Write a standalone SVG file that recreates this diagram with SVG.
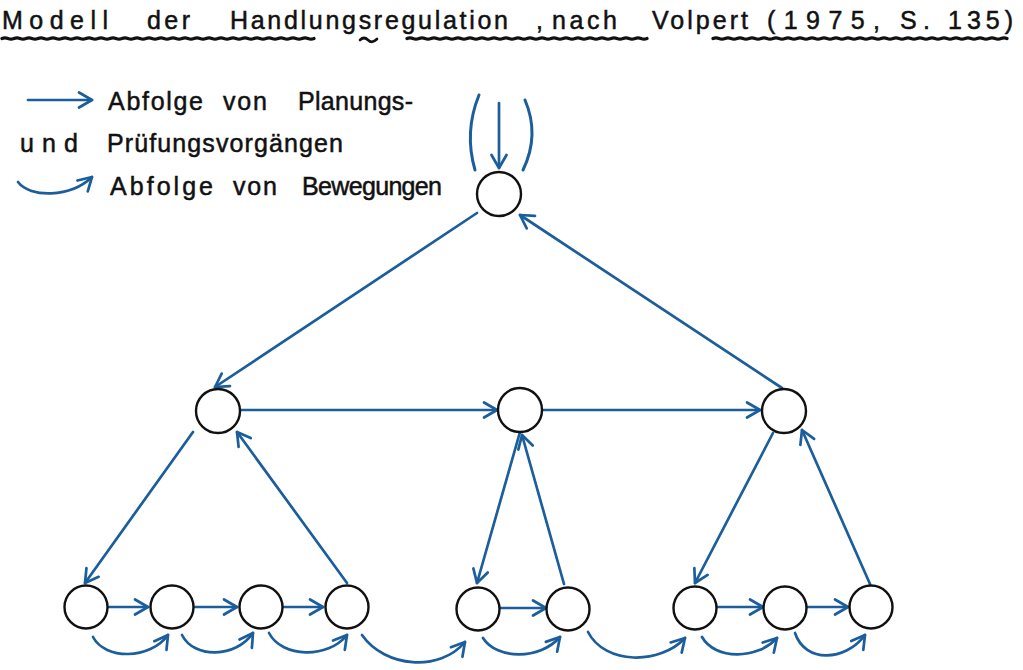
<svg xmlns="http://www.w3.org/2000/svg" width="1023" height="670" viewBox="0 0 1023 670">
<style>
  .t { font-family: "Liberation Sans", "DejaVu Sans", sans-serif; fill: #111; stroke: #111; stroke-width: 0.5; }
  .ttl { font-size: 25px; }
  .lg { font-size: 25px; }
  .ul { fill: none; stroke: #111; stroke-width: 3.2; stroke-linecap: round; }
  .node { fill: #fff; stroke: #111; stroke-width: 2.4; }
  .c { fill: none; stroke: #1b5e9b; stroke-width: 2.7; stroke-linecap: round; marker-end: url(#ah); }
  .p { fill: none; stroke: #1b5e9b; stroke-width: 3; stroke-linecap: round; }
</style>
<defs>
  <marker id="ah" viewBox="-15 -10 17 20" markerWidth="17" markerHeight="20" refX="0" refY="0" orient="auto" markerUnits="userSpaceOnUse">
    <path d="M-13,-7.5 L0,0 L-13,7.5" fill="none" stroke="#1b5e9b" stroke-width="2.7" stroke-linecap="round" stroke-linejoin="round"/>
  </marker>
</defs>
<rect width="1023" height="670" fill="#fff"/>

<g id="title">
  <text class="t ttl" x="2" y="29" textLength="106" lengthAdjust="spacing">Modell</text>
  <text class="t ttl" x="147" y="29" textLength="43" lengthAdjust="spacing">der</text>
  <text class="t ttl" x="230" y="29" textLength="278" lengthAdjust="spacing">Handlungsregulation</text>
  <text class="t ttl" x="536" y="29">,</text>
  <text class="t ttl" x="552" y="29" textLength="65" lengthAdjust="spacing">nach</text>
  <text class="t ttl" x="652" y="29" textLength="96" lengthAdjust="spacing">Volpert</text>
  <text class="t ttl" x="767" y="29" textLength="113" lengthAdjust="spacing">(1975,</text>
  <text class="t ttl" x="900" y="29" textLength="30" lengthAdjust="spacing">S.</text>
  <text class="t ttl" x="948" y="29" textLength="65" lengthAdjust="spacing">135)</text>
  <path class="ul" d="M2,38.5 q3,-1.3 6,0 t6,0 t6,0 t6,0 t6,0 t6,0 t6,0 t6,0 t6,0 t6,0 t6,0 t6,0 t6,0 t6,0 t6,0 t6,0 t6,0 t6,0 t6,0 t6,0 t6,0 t6,0 t6,0 t6,0 t6,0 t6,0 t6,0 t6,0 t6,0 t6,0 t6,0 t6,0 t6,0 t6,0 t6,0 t6,0 t6,0 t6,0 t6,0 t6,0 t6,0 t6,0 t6,0 t6,0 t6,0 t6,0 t6,0 t6,0 t6,0 t6,0 t6,0 t6,0"/>
  <path d="M360,40 q4,-4 8,0 t9,-1" fill="none" stroke="#111" stroke-width="2.6" stroke-linecap="round"/>
  <path class="ul" d="M407,38.5 q3,-1.3 6,0 t6,0 t6,0 t6,0 t6,0 t6,0 t6,0 t6,0 t6,0 t6,0 t6,0 t6,0 t6,0 t6,0 t6,0 t6,0 t6,0 t6,0 t6,0 t6,0 t6,0 t6,0 t6,0 t6,0 t6,0 t6,0 t6,0 t6,0 t6,0 t6,0 t6,0 t6,0 t6,0 t6,0 t6,0 t6,0 t6,0 t6,0 t6,0 t6,0"/>
  <path class="ul" d="M713,38.5 q3,-1.3 6,0 t6,0 t6,0 t6,0 t6,0 t6,0 t6,0 t6,0 t6,0 t6,0 t6,0 t6,0 t6,0 t6,0 t6,0 t6,0 t6,0 t6,0 t6,0 t6,0 t6,0 t6,0 t6,0 t6,0 t6,0 t6,0 t6,0 t6,0 t6,0 t6,0 t6,0 t6,0 t6,0 t6,0 t6,0 t6,0 t6,0 t6,0 t6,0 t6,0 t6,0 t6,0 t6,0 t6,0 t6,0 t6,0 t6,0 t6,0 t6,0"/>
</g>

<g id="legend">
  <path class="c" d="M28,100 L92,100"/>
  <text class="t lg" x="108" y="110" textLength="95" lengthAdjust="spacing">Abfolge</text>
  <text class="t lg" x="223" y="110" textLength="44" lengthAdjust="spacing">von</text>
  <text class="t lg" x="298" y="110" textLength="115" lengthAdjust="spacing">Planungs-</text>
  <text class="t lg" x="20" y="152" textLength="58" lengthAdjust="spacing">und</text>
  <text class="t lg" x="107" y="152" textLength="236" lengthAdjust="spacing">Prüfungsvorgängen</text>
  <path class="c" d="M18,182 C30,198 70,198 92,177"/>
  <text class="t lg" x="110" y="195" textLength="103" lengthAdjust="spacing">Abfolge</text>
  <text class="t lg" x="233" y="195" textLength="44" lengthAdjust="spacing">von</text>
  <text class="t lg" x="302" y="195" textLength="140" lengthAdjust="spacing">Bewegungen</text>
</g>

<g id="connectors">
  <path class="p" d="M479,95 Q464,132 475,170"/>
  <path class="p" d="M525,100 Q540,135 523,170"/>
  <path class="c" d="M499,103 L499,168"/>
  <path class="c" d="M477,213 L215,387"/>
  <path class="c" d="M782,388 L520,215"/>
  <path class="c" d="M238,410 L497,410"/>
  <path class="c" d="M541,410 L760,410"/>
  <path class="c" d="M193,432 L85,583"/>
  <path class="c" d="M347,583 L237,432"/>
  <path class="c" d="M520,432 L477,583"/>
  <path class="c" d="M564,584 L522,435"/>
  <path class="c" d="M773,433 L695,583"/>
  <path class="c" d="M870,584 L802,430"/>
  <path class="c" d="M107,607 L148,607"/>
  <path class="c" d="M193,607 L237,607"/>
  <path class="c" d="M282,607 L323,607"/>
  <path class="c" d="M500,608 L546,608"/>
  <path class="c" d="M717,607 L763,607"/>
  <path class="c" d="M806,607 L848,607"/>
  <path class="c" d="M93,637 C105,660 150,660 168,635"/>
  <path class="c" d="M182,635 C194,659 236,658 253,633"/>
  <path class="c" d="M269,633 C282,658 328,659 347,635"/>
  <path class="c" d="M362,635 C385,668 440,672 465,642"/>
  <path class="c" d="M483,638 C497,660 540,660 560,637"/>
  <path class="c" d="M588,632 C605,665 660,665 685,638"/>
  <path class="c" d="M702,637 C715,660 757,660 777,638"/>
  <path class="c" d="M795,633 C805,663 845,662 865,635"/>
</g>

<g id="n0"><circle class="node" cx="499" cy="194" r="22"/></g>
<g id="m1"><circle class="node" cx="218" cy="411" r="22"/></g>
<g id="m2"><circle class="node" cx="520" cy="410" r="22"/></g>
<g id="m3"><circle class="node" cx="784" cy="411" r="22"/></g>
<g id="b1"><circle class="node" cx="86" cy="607" r="21.5"/></g>
<g id="b2"><circle class="node" cx="172" cy="607" r="21.5"/></g>
<g id="b3"><circle class="node" cx="261" cy="607" r="21.5"/></g>
<g id="b4"><circle class="node" cx="347" cy="607" r="21.5"/></g>
<g id="b5"><circle class="node" cx="478" cy="609" r="21.5"/></g>
<g id="b6"><circle class="node" cx="568" cy="609" r="21.5"/></g>
<g id="b7"><circle class="node" cx="695" cy="608" r="21.5"/></g>
<g id="b8"><circle class="node" cx="785" cy="608" r="21.5"/></g>
<g id="b9"><circle class="node" cx="871" cy="607" r="21.5"/></g>
</svg>
